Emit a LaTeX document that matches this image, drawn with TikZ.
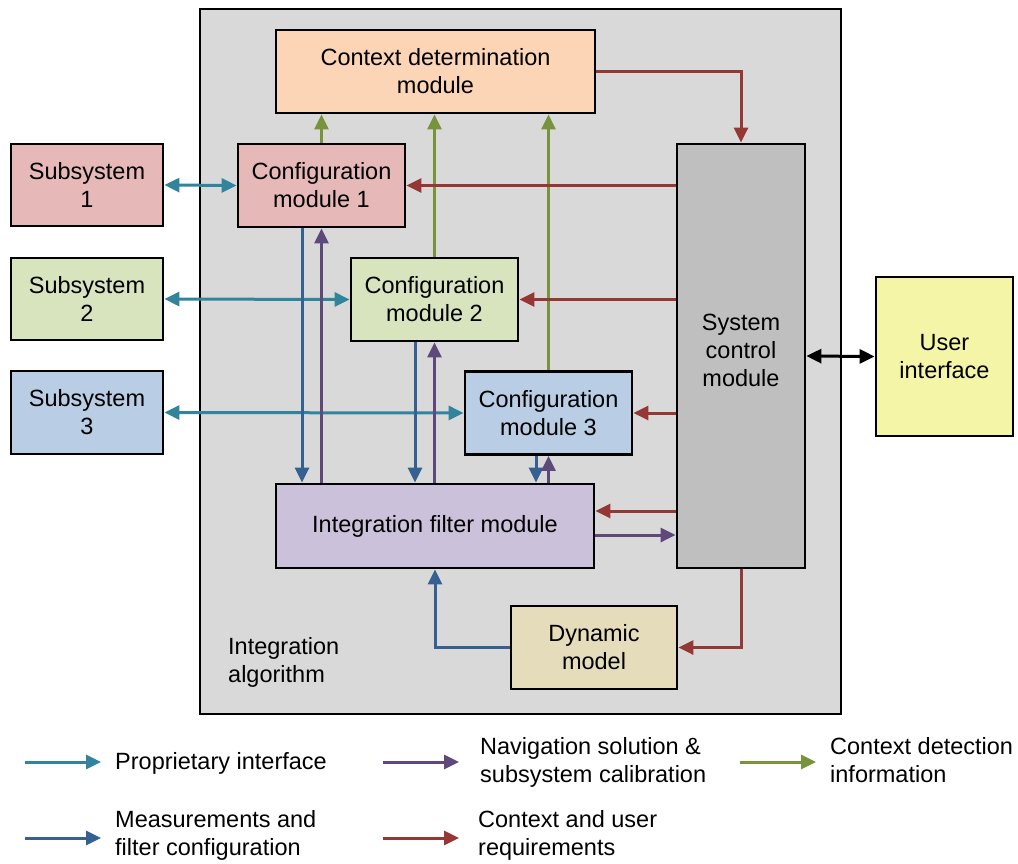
\documentclass[tikz,border=0pt]{standalone}
\usepackage{fontspec}
\setmainfont{Liberation Sans}
\usetikzlibrary{arrows.meta}
\definecolor{cpro}{HTML}{31849B}
\definecolor{cnav}{HTML}{5F497A}
\definecolor{cctx}{HTML}{77933C}
\definecolor{cmeas}{HTML}{366092}
\definecolor{creq}{HTML}{953735}
\definecolor{fsub1}{HTML}{E6B9B8}
\definecolor{fsub2}{HTML}{D7E4BD}
\definecolor{fsub3}{HTML}{B9CDE5}
\definecolor{fctx}{HTML}{FBD5B5}
\definecolor{fif}{HTML}{CCC1DA}
\definecolor{fsys}{HTML}{BFBFBF}
\definecolor{fdyn}{HTML}{E4DCBA}
\definecolor{fui}{HTML}{F5F5A8}
\definecolor{fout}{HTML}{D9D9D9}
\tikzset{
  blk/.style={draw=black, line width=2.8pt, rectangle, inner sep=0pt, align=center,
    font=\fontsize{23.5}{28}\selectfont},
  conn/.style={line width=3pt, -{Triangle[length=15pt,width=14pt]}},
  dconn/.style={line width=3pt, {Triangle[length=15pt,width=14pt]}-{Triangle[length=15pt,width=14pt]}},
  lbl/.style={anchor=west, align=left, inner sep=0pt, font=\fontsize{23.5}{28}\selectfont},
}
\begin{document}
\begin{tikzpicture}[x=1pt,y=-1pt]
\useasboundingbox (0,0) rectangle (1018,863);
% outer box
\node[draw=black, line width=2.2pt, fill=fout, minimum width=641pt, minimum height=705pt, inner sep=0pt] (outer) at (520.5,361.5) {};
\node[lbl] (ialg) at (228,662) {Integration\\algorithm};
% blocks
\node[blk, fill=fctx, minimum width=319pt, minimum height=83pt] (ctx) at (435.5,71.5) {Context determination\\module};
\node[blk, fill=fsub1, minimum width=152pt, minimum height=82pt] (s1) at (87,185) {Subsystem\\1};
\node[blk, fill=fsub2, minimum width=152pt, minimum height=82pt] (s2) at (87,299) {Subsystem\\2};
\node[blk, fill=fsub3, minimum width=152pt, minimum height=83pt] (s3) at (87,412.5) {Subsystem\\3};
\node[blk, fill=fsub1, minimum width=167pt, minimum height=83pt] (c1) at (321.5,185.5) {Configuration\\module 1};
\node[blk, fill=fsub2, minimum width=167pt, minimum height=83pt] (c2) at (434.5,299.5) {Configuration\\module 2};
\node[blk, fill=fsub3, minimum width=167pt, minimum height=83pt] (c3) at (548.5,413) {Configuration\\module 3};
\node[blk, fill=fif, minimum width=318pt, minimum height=84pt] (if) at (435,526) {Integration filter module};
\node[blk, fill=fsys, minimum width=128pt, minimum height=424pt] (sys) at (741,356) {};
\node[font=\fontsize{23.5}{28}\selectfont, align=center] (syst) at (741,350) {System\\control\\module};
\node[blk, fill=fdyn, minimum width=166pt, minimum height=83pt] (dyn) at (594,647.5) {Dynamic\\model};
\node[blk, fill=fui, minimum width=137pt, minimum height=159pt] (ui) at (944.5,356.5) {User\\interface};
% proprietary interfaces
\draw[dconn, cpro] (s1.east) -- (c1.west);
\draw[dconn, cpro] (s2.east) -- (c2.west);
\draw[dconn, cpro] (s3.east) -- (c3.west);
% context detection
\draw[conn, cctx] (c1.north) -- (c1.north |- ctx.south);
\draw[conn, cctx] (c2.north) -- (c2.north |- ctx.south);
\draw[conn, cctx] (c3.north) -- (c3.north |- ctx.south);
% requirements
\draw[conn, creq] (ctx.east) -| (sys.north);
\draw[conn, creq] (sys.west |- c1.east) -- (c1.east);
\draw[conn, creq] (sys.west |- c2.east) -- (c2.east);
\draw[conn, creq] (sys.west |- c3.east) -- (c3.east);
\draw[conn, creq] ([yshift=15pt]sys.west |- if.east) -- ([yshift=15pt]if.east);
\draw[conn, creq] (sys.south) |- (dyn.east);
% measurements
\draw[conn, cmeas] ([xshift=-19.5pt]c1.south) -- ([xshift=-19.5pt]c1.south |- if.north);
\draw[conn, cmeas] ([xshift=-19.5pt]c2.south) -- ([xshift=-19.5pt]c2.south |- if.north);
\draw[conn, cmeas] ([xshift=-12.5pt]c3.south) -- ([xshift=-12.5pt]c3.south |- if.north);
\draw[conn, cmeas] (dyn.west) -| (if.south);
% navigation
\draw[conn, cnav] (c1.south |- if.north) -- (c1.south);
\draw[conn, cnav] (c2.south |- if.north) -- (c2.south);
\draw[conn, cnav] (c3.south |- if.north) -- (c3.south);
\draw[conn, cnav] ([yshift=-9pt]if.east) -- ([yshift=-9pt]if.east -| sys.west);
% user interface
\draw[dconn, black] (sys.east) -- (ui.west);
% legend
\coordinate (l1a) at (25,762); \coordinate (l1b) at (101,762);
\coordinate (l2a) at (383,762); \coordinate (l2b) at (459,762);
\coordinate (l3a) at (740,762); \coordinate (l3b) at (816,762);
\coordinate (l4a) at (25,838); \coordinate (l4b) at (101,838);
\coordinate (l5a) at (383,838); \coordinate (l5b) at (459,838);
\draw[conn, cpro] (l1a) -- (l1b);
\draw[conn, cnav] (l2a) -- (l2b);
\draw[conn, cctx] (l3a) -- (l3b);
\draw[conn, cmeas] (l4a) -- (l4b);
\draw[conn, creq] (l5a) -- (l5b);
\node[lbl] (t1) at (115,763) {Proprietary interface};
\node[lbl] (t2) at (480,762) {Navigation solution \&\\subsystem calibration};
\node[lbl] (t3) at (830,760) {Context detection\\information};
\node[lbl] (t4) at (115,835) {Measurements and\\filter configuration};
\node[lbl] (t5) at (478,835) {Context and user\\requirements};
\end{tikzpicture}
\end{document}
